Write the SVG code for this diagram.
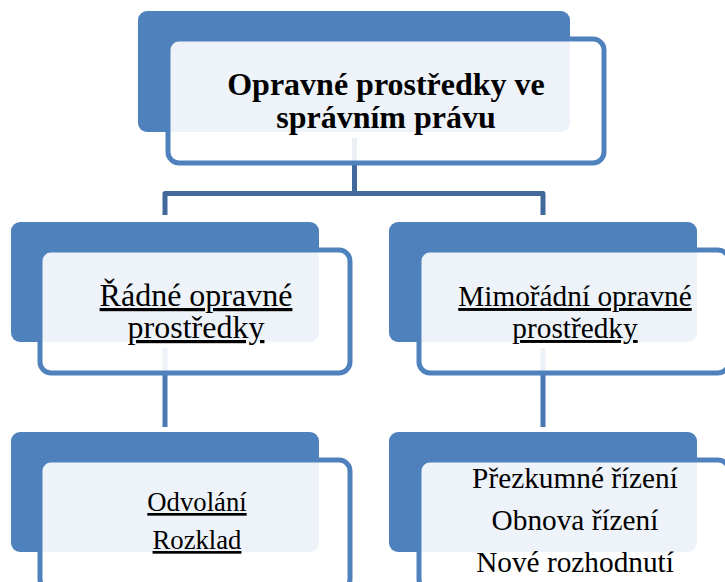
<svg xmlns="http://www.w3.org/2000/svg" width="725" height="582" viewBox="0 0 725 582">
<style>
.back{fill:#4F81BD;}
.front{fill:#FFFFFF;fill-opacity:0.9;stroke:#4F81BD;stroke-width:5;}
.conn{fill:none;stroke-width:5;stroke-linejoin:round;}
text{font-family:"Liberation Serif","Times New Roman",serif;fill:#000;text-anchor:middle;}
.title{font-weight:bold;font-size:32px;}
.u{text-decoration:underline;}
</style>
<g id="connectors">
<path class="conn" stroke="#41699B" d="M354.5,138 V193.5 H165 V215 M354.5,193.5 H543 V215"/>
<path class="conn" stroke="#4A78B2" d="M165,348 V427"/>
<path class="conn" stroke="#4A78B2" d="M543,348 V427"/>
</g>
<g id="node-root">
<rect class="back" x="138" y="11" width="432" height="121" rx="9"/>
<rect class="front" x="168" y="39" width="436" height="124" rx="11"/>
<text class="title" x="386" y="95">Opravné prostředky ve</text>
<text class="title" x="386" y="128">správním právu</text>
</g>
<g id="node-radne">
<rect class="back" x="11" y="222" width="308" height="120" rx="9"/>
<rect class="front" x="40" y="250" width="310" height="123" rx="11"/>
<text class="u" x="196" y="306" font-size="32">Řádné opravné</text>
<text class="u" x="196" y="338" font-size="32">prostředky</text>
</g>
<g id="node-mimoradne">
<rect class="back" x="389" y="222" width="308" height="120" rx="9"/>
<rect class="front" x="419" y="250" width="310" height="123" rx="11"/>
<text class="u" x="575" y="306" font-size="29.3">Mimořádní opravné</text>
<text class="u" x="575" y="338" font-size="29.3">prostředky</text>
</g>
<g id="node-radne-list">
<rect class="back" x="11" y="432" width="308" height="120" rx="9"/>
<rect class="front" x="40" y="460" width="310" height="130" rx="11"/>
<text class="u" x="197" y="511" font-size="26.7">Odvolání</text>
<text class="u" x="197" y="549" font-size="26.7">Rozklad</text>
</g>
<g id="node-mimoradne-list">
<rect class="back" x="389" y="432" width="308" height="120" rx="9"/>
<rect class="front" x="419" y="460" width="310" height="130" rx="11"/>
<text x="575" y="488" font-size="29.3">Přezkumné řízení</text>
<text x="575" y="530" font-size="29.3">Obnova řízení</text>
<text x="575" y="572" font-size="29.3">Nové rozhodnutí</text>
</g>
</svg>
